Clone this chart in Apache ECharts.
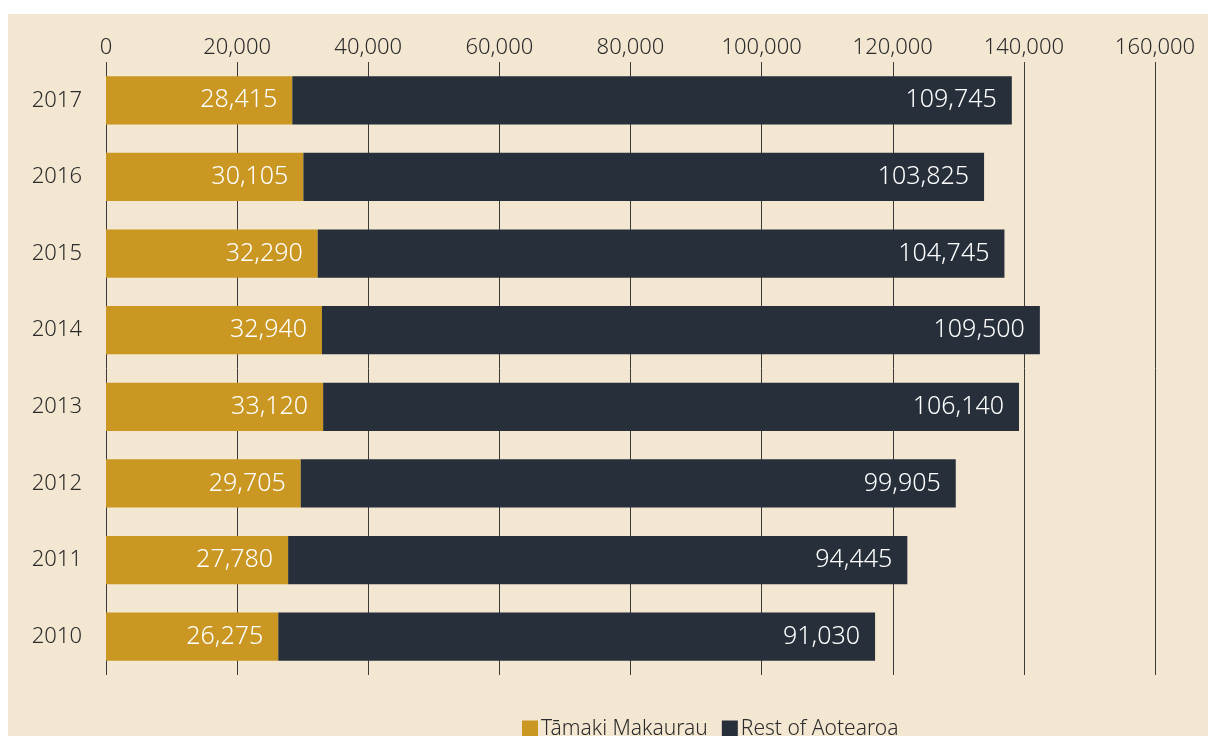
<!DOCTYPE html>
<html>
<head>
<meta charset="utf-8">
<script src="https://cdn.jsdelivr.net/npm/echarts@6/dist/echarts.min.js"></script>
<style>
  html, body { margin: 0; padding: 0; background: #ffffff; }
  #chart { position: absolute; left: 8px; top: 14px; width: 1200px; height: 722px; background: #f3e7d2; }
</style>
</head>
<body>
<div id="chart"></div>
<script>
var years = ['2017', '2016', '2015', '2014', '2013', '2012', '2011', '2010'];
var tamaki = [28415, 30105, 32290, 32940, 33120, 29705, 27780, 26275];
var restOf = [109745, 103825, 104745, 109500, 106140, 99905, 94445, 91030];
var seriesNames = ['Tāmaki Makaurau', 'Rest of Aotearoa'];

function fmt(v) {
  return String(v).replace(/\B(?=(\d{3})+(?!\d))/g, ',');
}

var font = '"Noto Sans", "Open Sans", sans-serif';

var chart = echarts.init(document.getElementById('chart'));
var option = {
  animation: false,
  textStyle: { fontFamily: font, fontWeight: 300 },
  grid: { left: 98, right: 53, top: 48, height: 613, containLabel: false },
  legend: {
    data: seriesNames,
    left: 514,
    top: 705,
    padding: 0,
    icon: 'rect',
    itemWidth: 16,
    itemHeight: 18,
    itemGap: 14,
    textStyle: { fontSize: 21, color: '#2b2b2b', fontFamily: font, fontWeight: 300, padding: [0, 0, 0, -2] }
  },
  xAxis: {
    type: 'value',
    position: 'top',
    min: 0,
    max: 160000,
    interval: 20000,
    axisLine: { show: false },
    axisTick: { show: false },
    axisLabel: { fontSize: 22, color: '#2b2b2b', fontWeight: 300, margin: 3, formatter: fmt },
    splitLine: { show: true, lineStyle: { color: '#3c3a36', width: 1 } }
  },
  yAxis: {
    type: 'category',
    data: years,
    inverse: true,
    axisLine: { show: false },
    axisTick: { show: false },
    axisLabel: { fontSize: 22, color: '#2b2b2b', fontWeight: 300, margin: 24 }
  },
  series: [
    {
      name: seriesNames[0],
      type: 'bar',
      stack: 'total',
      data: tamaki,
      barCategoryGap: '37%',
      itemStyle: { color: '#c99722' },
      label: { show: true, position: 'insideRight', color: '#ffffff', fontSize: 25, fontWeight: 300, distance: 15,
        formatter: function (p) { return fmt(p.value); } }
    },
    {
      name: seriesNames[1],
      type: 'bar',
      stack: 'total',
      data: restOf,
      barCategoryGap: '37%',
      itemStyle: { color: '#272f3a' },
      label: { show: true, position: 'insideRight', color: '#ffffff', fontSize: 25, fontWeight: 300, distance: 15,
        formatter: function (p) { return fmt(p.value); } }
    }
  ]
};
chart.setOption(option);
</script>
</body>
</html>
